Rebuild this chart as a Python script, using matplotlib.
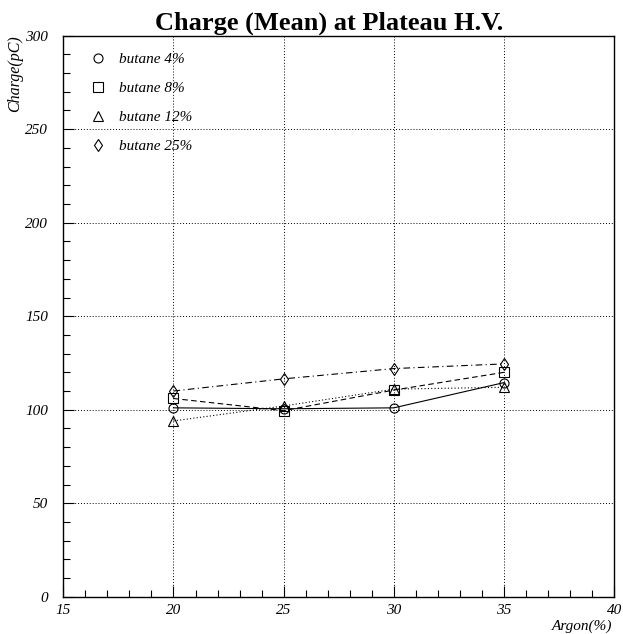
import matplotlib
matplotlib.use("Agg")
import matplotlib.pyplot as plt
from matplotlib.lines import Line2D
from matplotlib.ticker import MultipleLocator

argon = [20, 25, 30, 35]
butane_4 = [101, 100.5, 101, 114.5]
butane_8 = [106, 99.5, 110.5, 120]
butane_12 = [94, 102, 111, 112]
butane_25 = [110, 116.5, 122, 124.5]
labels = ["butane 4%", "butane 8%", "butane 12%", "butane 25%"]

plt.rcParams["font.family"] = ["Liberation Serif", "DejaVu Serif"]

fig = plt.figure(figsize=(6.23, 6.34), dpi=100)
ax = fig.add_axes([0.1016, 0.0588, 0.8844, 0.8849])

series = [
    (butane_4, "o", "-", 6.5),
    (butane_8, "s", (0, (5, 3)), 6.5),
    (butane_12, "^", (0, (1, 2)), 7),
    (butane_25, "d", (0, (6, 3, 1, 3)), 6),
]
handles = []
for vals, mk, ls, ms in series:
    ax.plot(argon, vals, color="black", linestyle=ls, linewidth=0.8,
            marker=mk, markersize=ms, markerfacecolor="none",
            markeredgecolor="black", markeredgewidth=0.8)
    handles.append(Line2D([], [], linestyle="none", marker=mk, markersize=ms,
                          markerfacecolor="none", markeredgecolor="black",
                          markeredgewidth=0.8))

ax.set_xlim(15, 40)
ax.set_ylim(0, 300)
ax.xaxis.set_major_locator(MultipleLocator(5))
ax.xaxis.set_minor_locator(MultipleLocator(1))
ax.yaxis.set_major_locator(MultipleLocator(50))
ax.yaxis.set_minor_locator(MultipleLocator(10))
ax.tick_params(which="major", direction="in", length=8, width=0.8,
               labelsize=11, top=False, right=False)
ax.tick_params(axis="y", which="major", pad=11)
ax.tick_params(axis="x", which="major", pad=5)
ax.tick_params(which="minor", direction="in", length=5, width=0.8,
               top=False, right=False)
for lab in ax.get_xticklabels() + ax.get_yticklabels():
    lab.set_fontstyle("italic")
ax.grid(True, which="major", linestyle=(0, (1, 2)), color="black", linewidth=0.7)
for s in ax.spines.values():
    s.set_linewidth(1.0)

ax.legend(handles, labels, loc="upper left", frameon=False,
          bbox_to_anchor=(0.024, 0.995), labelspacing=1.0,
          handlelength=1.0, handletextpad=0.9,
          prop={"style": "italic", "size": 11})

fig.text(0.528, 0.9527, "Charge (Mean) at Plateau H.V.", ha="center",
         va="baseline", fontsize=19, fontweight="bold")
fig.text(0.024, 0.945, "Charge(pC)", rotation=90, ha="center", va="top",
         fontsize=11.5, fontstyle="italic")
fig.text(0.983, 0.002, "Argon(%)", ha="right", va="bottom",
         fontsize=11, fontstyle="italic")

fig.savefig("out.png", dpi=100)
